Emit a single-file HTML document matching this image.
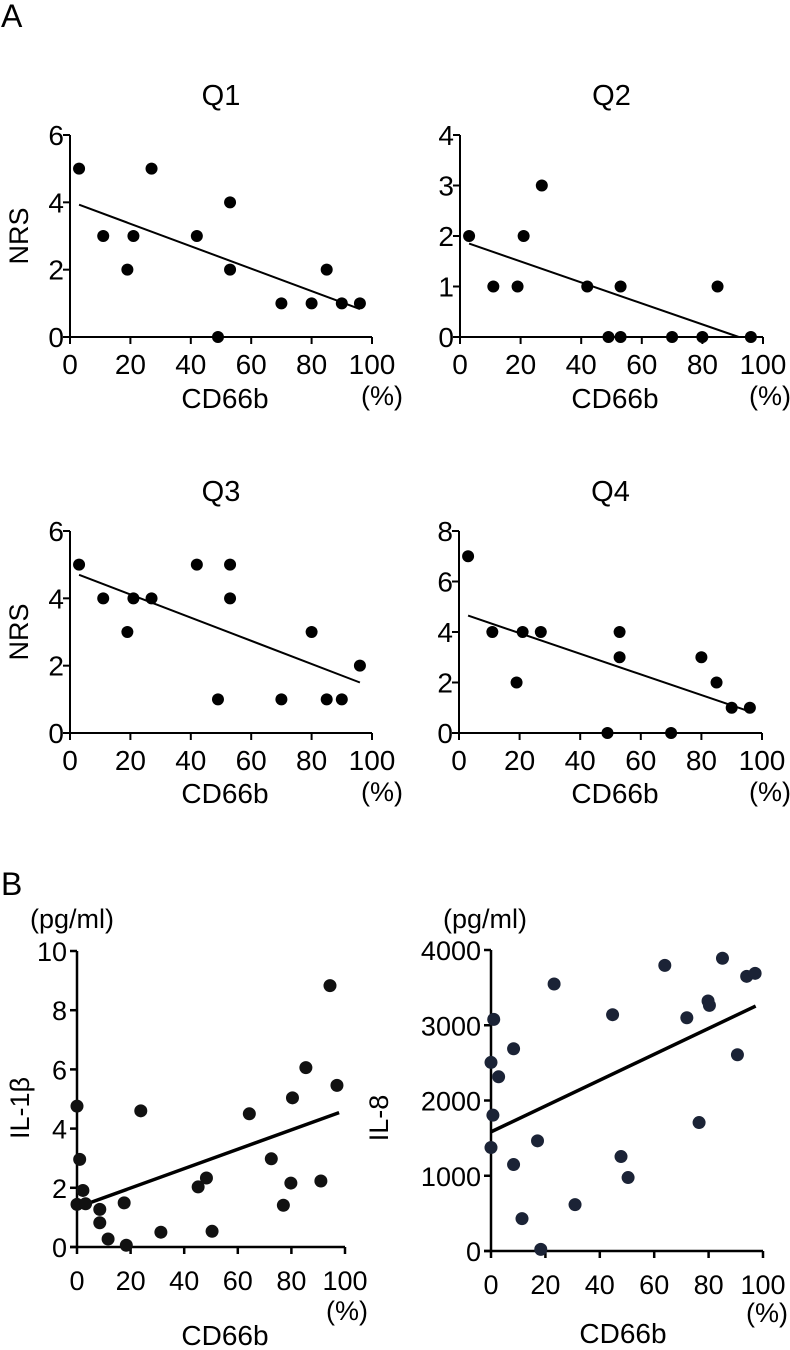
<!DOCTYPE html>
<html><head><meta charset="utf-8"><style>
body{margin:0;background:#fff;}
svg{display:block;font-family:"Liberation Sans",Arial,sans-serif;}
</style></head><body>
<svg id="fig" width="790" height="1350" viewBox="0 0 790 1350">
<text x="1" y="27" font-size="32">A</text>
<text x="1" y="895" font-size="32">B</text>
</svg>
<script>
// Panel A data (CD66b %, NRS)
const q1X=[3,11,19,21,27,42,49,53,53,70,80,85,90,96];
const q1Y=[5,3,2,3,5,3,0,4,2,1,1,2,1,1];
const q1Fit=[[3,3.93],[96,0.83]];
const q2X=[3,11,19,21,27,42,49,53,53,70,80,85,96];
const q2Y=[2,1,1,2,3,1,0,1,0,0,0,1,0];
const q2Fit=[[3,1.85],[92,0]];
const q3X=[3,11,19,21,27,42,49,53,53,70,80,85,90,96];
const q3Y=[5,4,3,4,4,5,1,5,4,1,3,1,1,2];
const q3Fit=[[3,4.7],[96,1.5]];
const q4X=[3,11,19,21,27,49,53,53,70,80,85,90,96];
const q4Y=[7,4,2,4,4,0,4,3,0,3,2,1,1];
const q4Fit=[[3,4.65],[96,0.85]];
// Panel B data
const il1X=[0,1,2.2,0,3.2,8.5,8.5,11.6,17.6,18.4,23.8,31.3,45.2,48.3,50.4,64.3,72.5,77,80.4,79.8,85.4,91,94.4,97];
const il1Y=[4.76,2.96,1.91,1.44,1.46,1.27,0.82,0.27,1.49,0.06,4.6,0.5,2.03,2.33,0.53,4.5,2.98,1.41,5.04,2.16,6.06,2.23,8.83,5.46];
const il1Fit=[[2.2,1.41],[97.8,4.54]];
const il8X=[1,0,2.8,0.7,0,8.3,8.3,11.4,17.1,18.3,23.2,30.9,44.7,47.8,50.4,63.9,72,76.5,79.8,80.3,85.1,90.6,94,97.1];
const il8Y=[3078,2506,2315,1805,1375,2688,1149,430,1464,22,3548,616,3140,1255,976,3796,3100,1707,3322,3264,3890,2608,3650,3690];
const il8Fit=[[0,1583],[97.3,3255]];
const xTicks=[0,20,40,60,80,100];
const nrs6Ticks=[0,2,4,6];
const nrs4Ticks=[0,1,2,3,4];
const nrs8Ticks=[0,2,4,6,8];
const il1Ticks=[0,2,4,6,8,10];
const il8Ticks=[0,1000,2000,3000,4000];

const NS="http://www.w3.org/2000/svg";
const svg=document.getElementById('fig');
function mk(tag,attrs,parent){const e=document.createElementNS(NS,tag);for(const k in attrs)e.setAttribute(k,attrs[k]);(parent||svg).appendChild(e);return e;}

function panel(o){
  const g=mk('g',{});
  
  
  const sx=v=>o.x0+(v-0)/100*(o.x1-o.x0);
  const sy=v=>o.y0-(v/o.ymax)*(o.y0-o.y1);
  const sw=o.sw;
  if(o.title){const t=mk('text',{x:(o.x0+o.x1)/2,y:o.titleY,'font-size':29,'text-anchor':'middle'},g);t.textContent=o.title;
    
    }
  const ya=mk('line',{x1:o.x0,y1:o.y0+1,x2:o.x0,y2:o.y1,stroke:'#000','stroke-width':sw},g);
  
  
  const xa=mk('line',{x1:o.x0-7,y1:o.y0,x2:o.x1,y2:o.y0,stroke:'#000','stroke-width':sw},g);
  
  
  o.yt.forEach(v=>{
    mk('line',{x1:o.x0-7,y1:sy(v),x2:o.x0,y2:sy(v),stroke:'#000','stroke-width':sw},g);
    const t=mk('text',{x:o.x0-o.ytGap,y:sy(v)+10,'font-size':o.fs,'text-anchor':'end'},g);t.textContent=v;
    
    
  });
  xTicks.forEach(v=>{
    mk('line',{x1:sx(v),y1:o.y0,x2:sx(v),y2:o.y0+7,stroke:'#000','stroke-width':sw},g);
    const t=mk('text',{x:sx(v),y:o.y0+o.xtOff,'font-size':o.fs,'text-anchor':'middle'},g);t.textContent=v;
    
    
  });
  const xl=mk('text',{x:o.xlX,y:o.xlY,'font-size':28,'text-anchor':'middle'},g);xl.textContent='CD66b';
  
  
  const pc=mk('text',{x:o.pcX,y:o.pcY,'font-size':27,'text-anchor':'middle'},g);pc.textContent='(%)';
  
  
  if(o.ylabel){const yl=mk('text',{transform:`translate(${o.ylX},${o.ylY}) rotate(-90)`,'font-size':27,'text-anchor':'middle'},g);yl.textContent=o.ylabel;
    
    }
  if(o.unit){const u=mk('text',{x:o.unitX,y:o.unitY,'font-size':27},g);u.textContent=o.unit;
    
    }
  const fl=mk('line',{x1:sx(o.fit[0][0]),y1:sy(o.fit[0][1]),x2:sx(o.fit[1][0]),y2:sy(o.fit[1][1]),stroke:'#000','stroke-width':o.lw},g);
  
  
  o.xs.forEach((v,i)=>{
    const c=mk('circle',{cx:sx(v),cy:sy(o.ys[i]),r:o.r,fill:o.col},g);
    
    
  });
}
const A={fs:28,sw:2,lw:2,r:6,col:'#000',xtOff:37,ytGap:6};
panel(Object.assign({},A,{name:'q1-panel',title:'Q1',titleY:105,x0:70,x1:372,y0:337,y1:135,ymax:6,yt:nrs6Ticks,xs:q1X,ys:q1Y,fit:q1Fit,xlX:225,xlY:408,pcX:382,pcY:405,ylabel:'NRS',ylX:28,ylY:236}));
panel(Object.assign({},A,{name:'q2-panel',title:'Q2',titleY:105,x0:460,x1:763,y0:337,y1:135,ymax:4,yt:nrs4Ticks,xs:q2X,ys:q2Y,fit:q2Fit,xlX:615,xlY:408,pcX:770,pcY:405}));
panel(Object.assign({},A,{name:'q3-panel',title:'Q3',titleY:501,x0:70,x1:372,y0:733,y1:531,ymax:6,yt:nrs6Ticks,xs:q3X,ys:q3Y,fit:q3Fit,xlX:225,xlY:803,pcX:382,pcY:801,ylabel:'NRS',ylX:28,ylY:632}));
panel(Object.assign({},A,{name:'q4-panel',title:'Q4',titleY:501,x0:459,x1:762,y0:733,y1:531,ymax:8,yt:nrs8Ticks,xs:q4X,ys:q4Y,fit:q4Fit,xlX:615,xlY:803,pcX:770,pcY:801}));
const B={fs:27,sw:2.5,lw:3.5,r:6.5,xtOff:43,ytGap:10};
panel(Object.assign({},B,{name:'il1b-panel',col:'#111',x0:77,x1:345,y0:1247,y1:951,ymax:10,yt:il1Ticks,xs:il1X,ys:il1Y,fit:il1Fit,xlX:225,xlY:1345,pcX:347,pcY:1320,ylabel:'IL-1β',ylX:29,ylY:1108,unit:'(pg/ml)',unitX:30,unitY:928}));
panel(Object.assign({},B,{name:'il8-panel',col:'#1b2336',x0:491,x1:763,y0:1251,y1:950,ymax:4000,yt:il8Ticks,xs:il8X,ys:il8Y,fit:il8Fit,xlX:623,xlY:1343,pcX:767,pcY:1322,ylabel:'IL-8',ylX:388,ylY:1118,unit:'(pg/ml)',unitX:443,unitY:928}));
</script>
</body></html>
